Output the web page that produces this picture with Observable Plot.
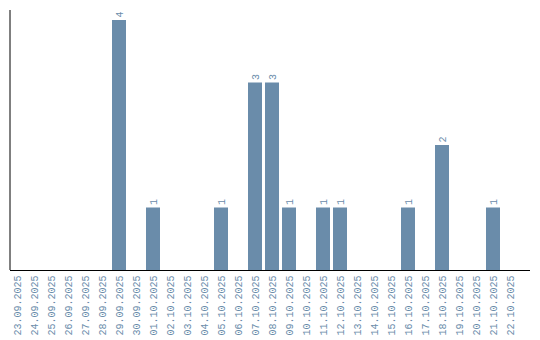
<!DOCTYPE html>
<html>
<head>
<meta charset="utf-8">
<script src="https://cdn.jsdelivr.net/npm/d3@7"></script>
<script src="https://cdn.jsdelivr.net/npm/@observablehq/plot@0.6"></script>
<style>
  body { margin: 0; background: #fff; }
  #chart { width: 540px; height: 340px; }
</style>
</head>
<body>
<div id="chart"></div>
<script>
const dates = [
  "23.09.2025","24.09.2025","25.09.2025","26.09.2025","27.09.2025","28.09.2025",
  "29.09.2025","30.09.2025","01.10.2025","02.10.2025","03.10.2025","04.10.2025",
  "05.10.2025","06.10.2025","07.10.2025","08.10.2025","09.10.2025","10.10.2025",
  "11.10.2025","12.10.2025","13.10.2025","14.10.2025","15.10.2025","16.10.2025",
  "17.10.2025","18.10.2025","19.10.2025","20.10.2025","21.10.2025","22.10.2025"
];
const counts = [
  0,0,0,0,0,0,
  4,0,1,0,0,0,
  1,0,3,3,1,0,
  1,1,0,0,0,1,
  0,2,0,0,1,0
];

const data = dates.map((d, i) => ({date: d, count: counts[i]}));
const nonzero = data.filter(d => d.count > 0);
const color = "#6a8caa";

const chart = Plot.plot({
  width: 540,
  height: 340,
  marginLeft: 10,
  marginRight: 10,
  marginTop: 10,
  marginBottom: 70,
  style: {fontFamily: "'Liberation Mono', monospace", fontSize: "10px", background: "#fff"},
  x: {domain: dates, range: [8.5, 518.5], paddingInner: 0.18, paddingOuter: 0.09, label: null},
  y: {domain: [0, 4], range: [270, 20], axis: null},
  marks: [
    Plot.barY(nonzero, {x: "date", y: "count", fill: color}),
    Plot.text(nonzero, {x: "date", y: "count", text: d => String(d.count), rotate: -90, textAnchor: "start", dy: -3, fill: color, fontSize: 10}),
    Plot.axisX({tickSize: 0, tickRotate: -90, tickPadding: 5, fill: color, label: null, fontSize: 10}),
    Plot.ruleY([0], {stroke: "#000", strokeWidth: 1}),
    Plot.ruleX([dates[0]], {x: d => d, dx: -7.5, y1: 0, y2: 4.16, stroke: "#000"})
  ]
});
document.getElementById("chart").appendChild(chart);
</script>
</body>
</html>
